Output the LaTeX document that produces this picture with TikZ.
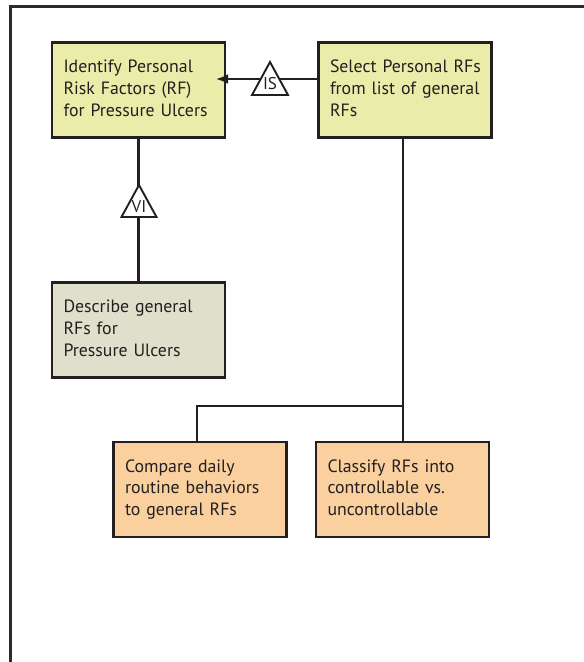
\documentclass[tikz,border=0pt]{standalone}
\usepackage{fontspec}
\setmainfont{PT Sans}
\usetikzlibrary{arrows.meta}
\definecolor{framec}{HTML}{2B2B2B}
\definecolor{ink}{HTML}{231F20}
\definecolor{yel}{HTML}{EAEDAA}
\definecolor{gry}{HTML}{E0DFCB}
\definecolor{org}{HTML}{F9D09E}
\newcommand{\boxlines}[1]{\noindent\begin{tabular}{@{}l@{}}#1\end{tabular}}
\begin{document}
\begin{tikzpicture}[x=1pt,y=-1pt,
  box/.style={draw=ink,line width=2.2pt,text width=150pt,inner xsep=11.5pt,inner ysep=0pt,
    minimum height=95pt,align=left,font=\fontsize{17.8}{21.7}\selectfont,text=ink},
  conn/.style={draw=ink,line width=2.2pt},
  tri/.style={draw=ink,line width=1.9pt,fill=white,line join=miter},
  trilabel/.style={font=\fontsize{17}{17}\selectfont,text=ink,inner sep=0pt}]
\useasboundingbox (0,0) rectangle (584,662);
\draw[line width=2.6pt,framec] (10.5,662) -- (10.5,6.5) -- (584,6.5);

\node[box,fill=yel] (b1) at (138.5,90) {\boxlines{Identify Personal\\Risk Factors (RF)\\for Pressure Ulcers}};
\node[box,fill=yel] (b2) at (405,90) {\boxlines{Select Personal RFs\\from list of general\\RFs}};
\node[box,fill=gry] (b3) at (138.5,330) {\boxlines{Describe general\\RFs for\\Pressure Ulcers}};
\node[box,fill=org] (b4) at (200,489.5) {\boxlines{Compare daily\\routine behaviors\\to general RFs}};
\node[box,fill=org] (b5) at (402.5,489.5) {\boxlines{Classify RFs into\\controllable vs.\\uncontrollable}};

% IS connector
\coordinate (ya) at (0,79);
\draw[conn,-{Latex[length=12pt,width=10pt]},shorten >=-10pt] (b2.west |- ya) -- (b1.east |- ya);
\draw[tri] (270,62) -- (288,95) -- (252,95) -- cycle;
\node[trilabel] (is) at (270,84) {IS};

% VI connector
\draw[conn] (b1.south) -- (b3.north);
\draw[tri] (139,185) -- (156.5,217) -- (121.5,217) -- cycle;
\node[trilabel] (vi) at (139,207) {VI};

% trunk to lower boxes
\coordinate (j) at (403,406);
\coordinate (k) at (197,406);
\draw[conn] (j |- b2.south) -- (j |- b5.north);
\draw[conn] (j) -- (k) -- (k |- b4.north);
\end{tikzpicture}
\end{document}
